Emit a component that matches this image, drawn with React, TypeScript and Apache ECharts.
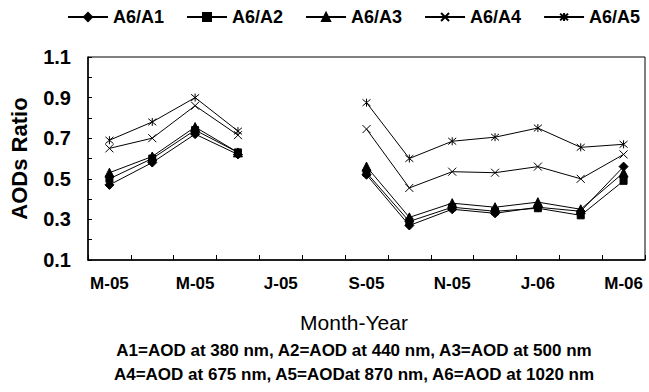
import React, { useEffect, useRef } from "react";
import * as echarts from "echarts";

const months = ["M-05", "A-05", "M-05", "J-05", "J-05", "A-05", "S-05", "O-05", "N-05", "D-05", "J-06", "F-06", "M-06"];
const seriesNames = ["A6/A1", "A6/A2", "A6/A3", "A6/A4", "A6/A5"];
const a6a1 = [0.47, 0.58, 0.72, 0.62, null, null, 0.52, 0.27, 0.35, 0.33, 0.36, 0.34, 0.56];
const a6a2 = [0.5, 0.6, 0.74, 0.63, null, null, 0.53, 0.29, 0.36, 0.34, 0.355, 0.32, 0.49];
const a6a3 = [0.53, 0.61, 0.755, 0.63, null, null, 0.56, 0.31, 0.38, 0.36, 0.385, 0.35, 0.53];
const a6a4 = [0.65, 0.7, 0.86, 0.715, null, null, 0.745, 0.455, 0.535, 0.53, 0.56, 0.5, 0.62];
const a6a5 = [0.69, 0.78, 0.9, 0.735, null, null, 0.875, 0.6, 0.685, 0.705, 0.75, 0.655, 0.67];
const footnotes = [
  "A1=AOD at 380 nm, A2=AOD at 440 nm, A3=AOD at 500 nm",
  "A4=AOD at 675 nm, A5=AODat 870 nm, A6=AOD at 1020 nm",
];

const FONT = "'Liberation Sans', Arial, sans-serif";
const symbols = [
  "diamond",
  "rect",
  "triangle",
  "path://M0,0L10,10M10,0L0,10",
  "path://M0,0L10,10M10,0L0,10M5,-1L5,11",
];
const sizes = [9, 7, 9, 8, 8];

export default function App() {
  const ref = useRef<HTMLDivElement>(null);
  useEffect(() => {
    if (!ref.current) return;
    const chart = echarts.init(ref.current, null, { renderer: "svg" });
    const data = [a6a1, a6a2, a6a3, a6a4, a6a5];
    chart.setOption({
      animation: false,
      backgroundColor: "#ffffff",
      legend: {
        top: 8,
        left: 67,
        width: 590,
        padding: 0,
        itemGap: 22,
        itemWidth: 40,
        itemHeight: 10,
        textStyle: { fontFamily: FONT, fontSize: 18, fontWeight: "bold", color: "#000" },
        data: seriesNames,
      },
      grid: {
        left: 86,
        top: 57,
        right: 4,
        bottom: 132,
        show: true,
        borderColor: "#000",
        borderWidth: 1,
        backgroundColor: "transparent",
      },
      xAxis: {
        type: "category",
        data: months,
        boundaryGap: true,
        axisLine: { lineStyle: { color: "#000", width: 1.5 } },
        axisTick: { show: true, inside: true, length: 5, interval: 0, lineStyle: { color: "#000" } },
        axisLabel: {
          interval: 1,
          margin: 15,
          fontFamily: FONT,
          fontSize: 17,
          fontWeight: "bold",
          color: "#000",
        },
        splitLine: { show: false },
      },
      yAxis: {
        type: "value",
        min: 0.1,
        max: 1.1,
        interval: 0.1,
        name: "AODs Ratio",
        nameLocation: "middle",
        nameRotate: 90,
        nameGap: 58,
        nameTextStyle: { fontFamily: FONT, fontSize: 22, fontWeight: "bold", color: "#000" },
        axisLine: { show: true, lineStyle: { color: "#000", width: 1.5 } },
        axisTick: { show: true, inside: true, length: 4, lineStyle: { color: "#000" } },
        axisLabel: {
          margin: 17,
          fontFamily: FONT,
          fontSize: 20,
          fontWeight: "bold",
          color: "#000",
          formatter: (v: number, i: number) => (i % 2 === 0 ? v.toFixed(1) : ""),
        },
        splitLine: { show: false },
      },
      graphic: [
        {
          type: "text",
          x: 354,
          y: 322,
          style: {
            text: "Month-Year",
            fontFamily: FONT,
            fontSize: 21,
            fill: "#000",
            align: "center",
            verticalAlign: "middle",
          },
        },
        ...footnotes.map((t, i) => ({
          type: "text",
          x: 354,
          y: 350 + i * 24,
          style: {
            text: t,
            fontFamily: FONT,
            fontSize: 17,
            fontWeight: "bold",
            fill: "#000",
            align: "center",
            verticalAlign: "middle",
          },
        })),
      ],
      series: seriesNames.map((name, i) => ({
        name,
        type: "line",
        data: data[i],
        connectNulls: false,
        symbol: symbols[i],
        symbolSize: sizes[i],
        showAllSymbol: true,
        lineStyle: { color: "#000", width: 1 },
        itemStyle: {
          color: i >= 3 ? "none" : "#000",
          borderColor: "#000",
          borderWidth: 1,
        },
      })),
    });
    return () => chart.dispose();
  }, []);
  return <div ref={ref} style={{ width: 649, height: 392, position: "absolute", left: 0, top: 0 }} />;
}
